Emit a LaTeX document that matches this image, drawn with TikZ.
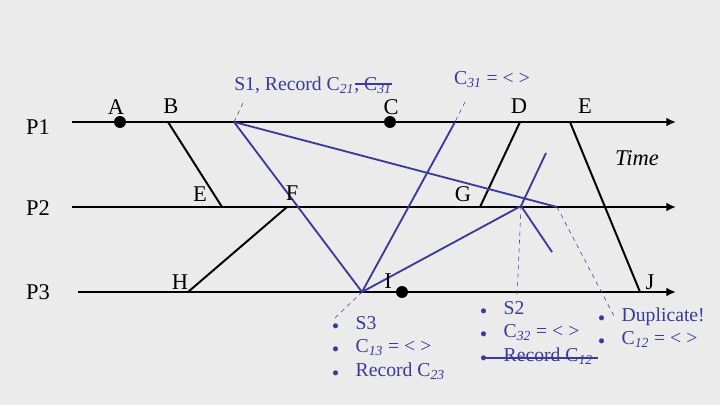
\documentclass[tikz,border=0pt]{standalone}
\usepackage{fontspec}
\setmainfont{Liberation Serif}
\usetikzlibrary{arrows.meta}
\definecolor{blau}{HTML}{3A3A9A}
\definecolor{hinter}{HTML}{EBEBEB}
\tikzset{
  proc/.style={-{Latex[length=2.4mm,width=2.2mm]},black,line width=2pt},
  msg/.style={black,line width=1.4pt},
  mrk/.style={blau,line width=1.3pt},
  hinweis/.style={blau,dashed,line width=0.4pt},
  ereignis/.style={circle,fill=black,inner sep=0pt,minimum size=8.5pt},
  lbl/.style={font=\fontsize{16}{18}\selectfont,inner sep=0pt},
  blbl/.style={blau,font=\fontsize{14}{17}\selectfont,inner sep=0pt},
  liste/.style={blau,font=\fontsize{14}{17}\selectfont,inner sep=0pt,anchor=base west},
}
\newcommand{\ct}[1]{C\textsubscript{\itshape #1}}
\newcommand{\pkt}{{\small$\bullet$}}
\begin{document}
\begin{tikzpicture}[x=0.025cm,y=-0.025cm]
  \fill[hinter] (0,0) rectangle (720,405);
  \useasboundingbox (0,0) rectangle (720,405);
  % process lines
  \coordinate (p1s) at (72,122); \coordinate (p1e) at (676,122);
  \coordinate (p2s) at (72,207); \coordinate (p2e) at (676,207);
  \coordinate (p3s) at (78,292); \coordinate (p3e) at (676,292);
  \draw[proc] (p1s)--(p1e);
  \draw[proc] (p2s)--(p2e);
  \draw[proc] (p3s)--(p3e);
  \node[lbl] (nP1) at (38,127) {P1};
  \node[lbl] (nP2) at (38,208) {P2};
  \node[lbl] (nP3) at (38,292) {P3};
  \node[lbl,font=\fontsize{16}{18}\selectfont\itshape] (nTime) at (637,158) {Time};
  % events
  \node[ereignis] (evA) at (120,122) {};
  \node[ereignis] (evC) at (390,122) {};
  \node[ereignis] (evI) at (402,292) {};
  \coordinate (evB) at (168,122);  \coordinate (evE) at (222,207);
  \coordinate (evH) at (188,292);  \coordinate (evF) at (287,207);
  \coordinate (evD) at (520,122);  \coordinate (evG) at (480,207);
  \coordinate (evE1) at (570,122); \coordinate (evJ) at (640,292);
  \coordinate (s1) at (234,122);   \coordinate (s3) at (362,292);
  \coordinate (c31) at (455,122);  \coordinate (s2) at (521,206);
  \coordinate (dup) at (557,207);
  \coordinate (s2a) at (546,153);  \coordinate (s2b) at (552,252);
  % messages
  \draw[msg] (evB)--(evE);
  \draw[msg] (evH)--(evF);
  \draw[msg] (evD)--(evG);
  \draw[msg] (evE1)--(evJ);
  % markers
  \draw[mrk] (s1)--(s3);
  \draw[mrk] (s1)--(dup);
  \draw[mrk] (s3)--(c31);
  \draw[mrk] (s3)--(s2);
  \draw[mrk] (s2)--(s2a);
  \draw[mrk] (s2)--(s2b);
  % event labels
  \node[lbl] (lA) at (116,107) {A};
  \node[lbl] (lB) at (171,106) {B};
  \node[lbl] (lC) at (391,107) {C};
  \node[lbl] (lD) at (519,106) {D};
  \node[lbl] (lE1) at (585,106) {E};
  \node[lbl] (lE) at (200,194) {E};
  \node[lbl] (lF) at (292,193) {F};
  \node[lbl] (lG) at (463,194) {G};
  \node[lbl] (lH) at (180,282) {H};
  \node[lbl] (lI) at (388,281) {I};
  \node[lbl] (lJ) at (650,282) {J};
  % snapshot notes
  \node[blbl] (tS1) at (313,85) {S1, Record \ct{21}, \ct{31}};
  \draw[blau,line width=1pt] (355,84)--(392,84);
  \node[blbl] (tC31) at (492,80) {\ct{31} = < >};
  \node[liste] (lst3) at (332,329) {\begin{tabular}[t]{@{}l@{\hspace{12pt}}l@{}}
    \pkt & S3\\ \pkt & \ct{13} = < >\\ \pkt & Record \ct{23}\end{tabular}};
  \node[liste] (lst2) at (480,314) {\begin{tabular}[t]{@{}l@{\hspace{12pt}}l@{}}
    \pkt & S2\\ \pkt & \ct{32} = < >\\ \pkt & Record \ct{12}\end{tabular}};
  \draw[blau,line width=1pt] (482,358)--(598,358);
  \node[liste] (lstD) at (598,321) {\begin{tabular}[t]{@{}l@{\hspace{12pt}}l@{}}
    \pkt & Duplicate!\\ \pkt & \ct{12} = < >\end{tabular}};
  % callouts
  \draw[hinweis] (243,103)--(s1);
  \draw[hinweis] (465,102)--(c31);
  \draw[hinweis] (335,318)--(s3);
  \draw[hinweis] (s2)--(517,298);
  \draw[hinweis] (dup)--(614,316);
\end{tikzpicture}
\end{document}
